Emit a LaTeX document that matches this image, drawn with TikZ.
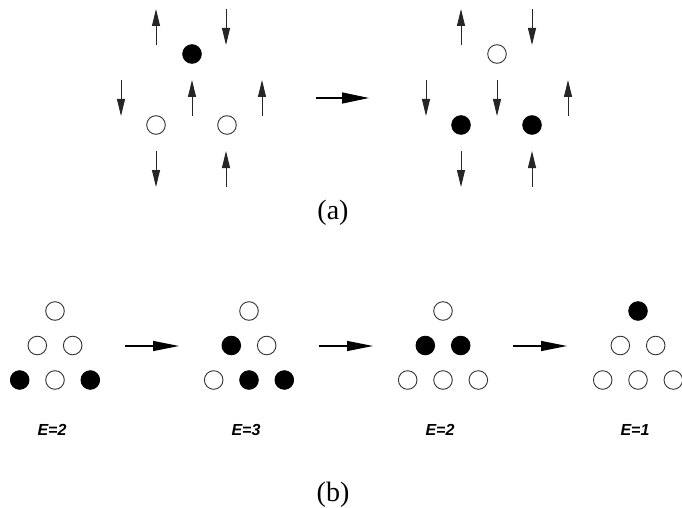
\documentclass[tikz,border=0pt]{standalone}
\usepackage{fontspec}
\setmainfont{Liberation Serif}
\newfontfamily\elabfont{Liberation Sans}
\usetikzlibrary{arrows.meta}
\begin{document}
\begin{tikzpicture}[x=1pt, y=-1pt,
    vac/.style={circle, draw=black!80, line width=0.9pt, minimum size=18.6pt, inner sep=0pt},
    occ/.style={vac, draw=black, fill=black},
    spin/.style={-{Triangle[length=17pt, width=8pt]}, line width=0.9pt, black!85},
    move/.style={-{Triangle[length=26pt, width=10pt]}, line width=1.2pt},
    elab/.style={font=\elabfont\bfseries\itshape\fontsize{16}{16}\selectfont},
    caption/.style={font=\fontsize{28}{28}\selectfont}]
    \clip (0, 0) rectangle (682, 508);
    % (a) sites before and after
    \node[occ] (a1) at (192, 54) {};
    \node[vac] (a2) at (156, 125) {};
    \node[vac] (a3) at (227, 125) {};
    \node[vac] (b1) at (497, 54) {};
    \node[occ] (b2) at (461, 125) {};
    \node[occ] (b3) at (532, 125) {};
    % spins: x / row centre / direction (1 = up)
    \foreach \x/\y/\d in {156/27/1, 226/27/-1, 121/98/-1, 192/98/1, 262/98/1, 156/169/-1, 226/169/1,
                          461/27/1, 532/27/-1, 426/98/-1, 497/98/-1, 568/98/1, 461/169/-1, 532/169/1} {
        \draw[spin] (\x, {\y+18*\d}) -- (\x, {\y-18*\d});
    }
    \draw[move, -{Triangle[length=27pt, width=11pt]}] (316, 98) -- (369, 98);
    \node[caption] (capa) at (333, 213) {(a)};
    % (b) triangle configurations
    \foreach \cx/\p/\q/\r/\s/\t/\u/\e [count=\i] in {55/vac/vac/vac/occ/vac/occ/2, 249/vac/occ/vac/vac/occ/occ/3,
                                                 443/vac/occ/occ/vac/vac/vac/2, 638/occ/vac/vac/vac/vac/vac/1} {
        \node[\p] (t\i-1) at (\cx, 311) {};
        \node[\q] (t\i-2) at (\cx-17.7, 345.5) {};
        \node[\r] (t\i-3) at (\cx+17.7, 345.5) {};
        \node[\s] (t\i-4) at (\cx-35.3, 380) {};
        \node[\t] (t\i-5) at (\cx, 380) {};
        \node[\u] (t\i-6) at (\cx+35.3, 380) {};
        \node[elab] (e\i) at (\cx-3, 430) {E=\e};
    }
    \foreach \cx in {55, 249, 443} {
        \draw[move] (\cx+70, 346) -- (\cx+124, 346);
    }
    \node[caption] (capb) at (333, 495) {(b)};
\end{tikzpicture}
\end{document}
